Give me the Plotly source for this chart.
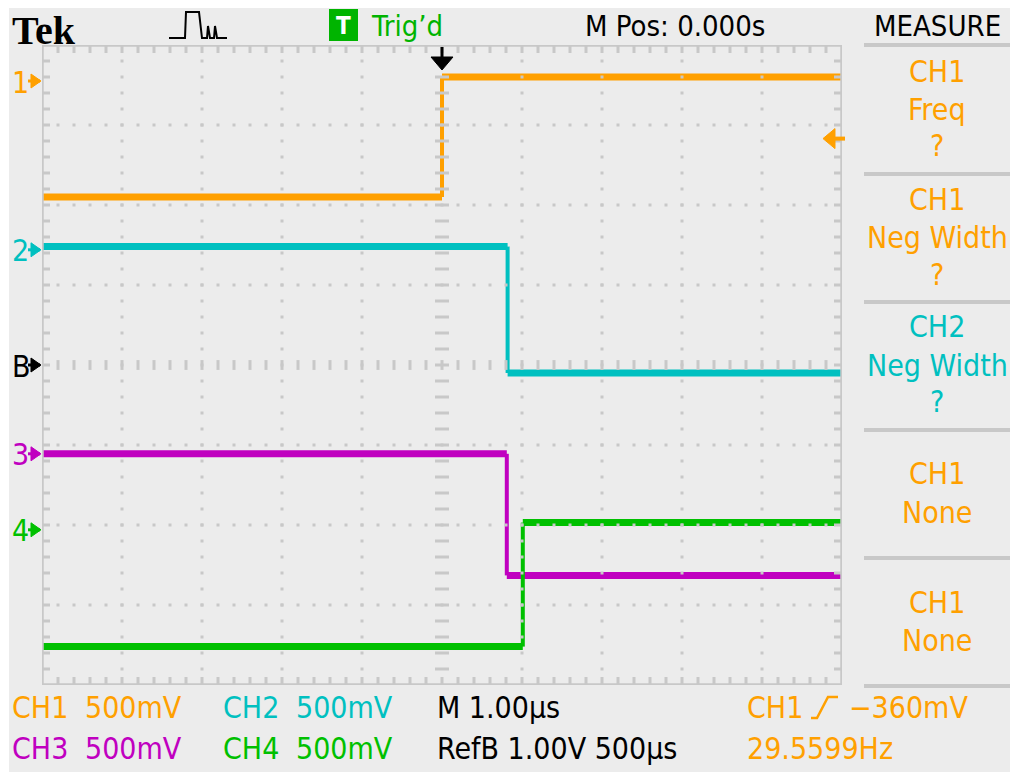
import plotly.graph_objects as go
import numpy as np

channels = ["CH1", "CH2", "CH3", "CH4"]
channel_colors = ["#ffa000", "#00c0c0", "#c000c0", "#00c000"]
marker_labels = ["1", "2", "3", "4"]
position_div = [3.55, 1.44, -1.11, -2.06]        # ground marker position (divisions)
volts_per_div = [0.5, 0.5, 0.5, 0.5]
edge_time_us = [0.0, 0.82, 0.81, 1.01]           # time of the single edge
level_before_v = [-0.725, 0.02, 0.0, -0.73]      # level before the edge (V)
level_after_v = [0.025, -0.77, -0.76, 0.045]     # level after the edge (V)

ref_label = "B"
ref_position_div = 0.0

time_per_div_us = 1.0
trigger_time_us = 0.0
trigger_level_v = -0.36
trigger_channel = 0
frequency_hz = 29.5599

measure_titles = ["CH1", "CH1", "CH2", "CH1", "CH1"]
measure_names = ["Freq", "Neg Width", "Neg Width", "None", "None"]
measure_values = ["?", "?", "?", "", ""]
measure_colors = ["#ffa000", "#ffa000", "#00c0c0", "#ffa000", "#ffa000"]

# ---------------- geometry (page pixels of the reference) ----------------
PAGE_W, PAGE_H = 1018, 772
OFF = 8                       # default page body margin
W, H = PAGE_W - OFF, PAGE_H - OFF
X0, X1, Y0, Y1 = 42, 842, 45, 685
BG = "#ececec"
GRID = "#c8c8c8"
FONT = "DejaVu Sans Condensed, Liberation Sans Narrow, Liberation Sans, sans-serif"
FS = 30


def px(x):
    return (x - OFF) / W


def py(y):
    return 1 - (y - OFF) / H


def t2px(t):
    return X0 + (t + 5) / 10 * (X1 - X0)


def d2py(d):
    return Y0 + (4 - d) / 8 * (Y1 - Y0)


fig = go.Figure()

# ---------------- signal traces ----------------
for i, name in enumerate(channels):
    yb = position_div[i] + level_before_v[i] / volts_per_div[i]
    ya = position_div[i] + level_after_v[i] / volts_per_div[i]
    te = edge_time_us[i]
    fig.add_trace(go.Scatter(x=[-5.2, te, None, te, 5.2], y=[yb, yb, None, ya, ya],
                             mode="lines", line=dict(color=channel_colors[i], width=7),
                             hoverinfo="skip", showlegend=False))
    fig.add_trace(go.Scatter(x=[te, te], y=[yb, ya], mode="lines",
                             line=dict(color=channel_colors[i], width=4),
                             hoverinfo="skip", showlegend=False))

# ---------------- graticule (drawn above the traces) ----------------
minor = np.round(np.arange(-5, 5.001, 0.2), 3)
minor_y = np.round(np.arange(-4, 4.001, 0.2), 3)
gx, gy = [], []
for xv in range(-4, 5):
    if xv == 0:
        continue
    for yv in minor_y[1:-1]:
        gx.append(xv); gy.append(yv)
for yv in range(-3, 4):
    if yv == 0:
        continue
    for xv in minor[1:-1]:
        gx.append(xv); gy.append(yv)
fig.add_trace(go.Scatter(x=gx, y=gy, mode="markers",
                         marker=dict(symbol="square", size=3, color=GRID, line=dict(width=0)),
                         hoverinfo="skip", showlegend=False))
# center cross ticks
fig.add_trace(go.Scatter(x=[0] * (len(minor_y) - 2), y=minor_y[1:-1], mode="markers",
                         marker=dict(symbol="line-ew", size=10, line=dict(color=GRID, width=3)),
                         hoverinfo="skip", showlegend=False))
fig.add_trace(go.Scatter(x=minor[1:-1], y=[0] * (len(minor) - 2), mode="markers",
                         marker=dict(symbol="line-ns", size=7, line=dict(color=GRID, width=3)),
                         hoverinfo="skip", showlegend=False))
# border ticks
tx, ty = [], []
tl_x = 8 / 80
tl_y = 8 / 80
for yv in minor_y[1:-1]:
    tx += [-5, -5 + tl_x, None, 5, 5 - tl_x, None]
    ty += [yv, yv, None, yv, yv, None]
for xv in minor[1:-1]:
    tx += [xv, xv, None, xv, xv, None]
    ty += [4, 4 - tl_y, None, -4, -4 + tl_y, None]
fig.add_trace(go.Scatter(x=tx, y=ty, mode="lines", line=dict(color=GRID, width=3),
                         hoverinfo="skip", showlegend=False))

# ---------------- shapes ----------------
shapes = []
shapes.append(dict(type="rect", xref="paper", yref="paper", x0=px(9), x1=1, y0=0, y1=1,
                   fillcolor=BG, line=dict(width=0), layer="below"))
shapes.append(dict(type="rect", xref="x", yref="y", x0=-5, x1=5, y0=-4, y1=4,
                   line=dict(color=GRID, width=3.5), layer="above"))
# measure panel separators
for yy in [45, 174, 302, 430, 558, 686]:
    shapes.append(dict(type="line", xref="paper", yref="paper", x0=px(864), x1=px(1012),
                       y0=py(yy), y1=py(yy), line=dict(color=GRID, width=4)))


def path(points, close=False):
    s = "M " + " L ".join(f"{px(a):.5f},{py(b):.5f}" for a, b in points)
    return s + (" Z" if close else "")


def marker_arrow(ymark, color):
    shapes.append(dict(type="path", xref="paper", yref="paper",
                       path=path([(31, ymark - 7), (41, ymark), (31, ymark + 7)], True),
                       fillcolor=color, line=dict(color=color, width=1)))
    shapes.append(dict(type="line", xref="paper", yref="paper", x0=px(28), x1=px(40),
                       y0=py(ymark), y1=py(ymark), line=dict(color=color, width=3)))


annotations = []


def ann(text, x, y, color, size=FS, anchor="left", family=FONT):
    annotations.append(dict(text=text, x=px(x), y=py(y), xref="paper", yref="paper",
                            xanchor=anchor, yanchor="middle", showarrow=False,
                            font=dict(family=family, size=size, color=color), borderpad=0))


# channel ground markers
for i in range(4):
    ym = d2py(position_div[i])
    marker_arrow(ym, channel_colors[i])
    ann(marker_labels[i], 11, ym + 1, channel_colors[i])
ym = d2py(ref_position_div)
marker_arrow(ym, "#000000")
ann(ref_label, 11, ym + 1, "#000000")

# trigger position arrow (top)
xt = t2px(trigger_time_us)
shapes.append(dict(type="rect", xref="paper", yref="paper", x0=px(xt - 1.5), x1=px(xt + 1.5),
                   y0=py(58), y1=py(47), fillcolor="#000000", line=dict(width=0)))
shapes.append(dict(type="path", xref="paper", yref="paper",
                   path=path([(xt - 11, 57), (xt + 11, 57), (xt, 70)], True),
                   fillcolor="#000000", line=dict(color="#000000", width=1)))

# trigger level arrow (right)
yt = d2py(position_div[trigger_channel] + trigger_level_v / volts_per_div[trigger_channel])
tc = channel_colors[trigger_channel]
shapes.append(dict(type="path", xref="paper", yref="paper",
                   path=path([(823, yt), (835, yt - 10), (835, yt + 10)], True),
                   fillcolor=tc, line=dict(color=tc, width=1)))
shapes.append(dict(type="line", xref="paper", yref="paper", x0=px(834), x1=px(845),
                   y0=py(yt), y1=py(yt), line=dict(color=tc, width=4)))

# acquisition icon
shapes.append(dict(type="path", xref="paper", yref="paper",
                   path=path([(169, 38), (185, 38), (186, 12), (199, 12), (202, 38), (207, 38),
                              (208, 26), (210, 38), (214, 38), (215, 26), (217, 38), (227, 38)]),
                   line=dict(color="#000000", width=2)))

# Trig'd box
shapes.append(dict(type="rect", xref="paper", yref="paper", x0=px(329), x1=px(358),
                   y0=py(41), y1=py(9), fillcolor="#00b400", line=dict(width=0)))

# rising edge glyph in trigger readout
shapes.append(dict(type="path", xref="paper", yref="paper",
                   path=path([(811, 718), (817, 718), (828, 697), (838, 697)]),
                   line=dict(color=tc, width=2.5)))

# ---------------- texts ----------------
ann("<b>Tek</b>", 11, 31, "#000000", size=40, family="Liberation Serif, DejaVu Serif, serif")
ann("<b>T</b>", 343.5, 26, "#ffffff", size=24, anchor="center")
ann("Trig’d", 370, 26, "#00b400", size=29)
ann(f"M Pos: {trigger_time_us:.3f}s", 584, 26, "#000000", size=29)
ann("MEASURE", 937, 26, "#000000", size=29, anchor="center")

for k in range(5):
    ytop = 45 + 128 * k
    c = measure_colors[k]
    if measure_values[k]:
        ann(measure_titles[k], 937, ytop + 26, c, anchor="center")
        ann(measure_names[k], 937, ytop + 64, c, anchor="center")
        ann(measure_values[k], 937, ytop + 101, c, anchor="center")
    else:
        ann(measure_titles[k], 937, ytop + 45, c, anchor="center")
        ann(measure_names[k], 937, ytop + 83, c, anchor="center")

row_y = [707, 748]
col_x = [(11, 84), (222, 295)]
for i in range(4):
    r = 0 if i in (0, 1) else 1
    cidx = 0 if i in (0, 2) else 1
    ann(channels[i], col_x[cidx][0], row_y[r], channel_colors[i])
    ann(f"{volts_per_div[i] * 1000:.0f}mV", col_x[cidx][1], row_y[r], channel_colors[i])
ann(f"M {time_per_div_us:.2f}µs", 436, row_y[0], "#000000")
ann("RefB 1.00V 500µs", 436, row_y[1], "#000000")
ann(channels[trigger_channel], 746, row_y[0], tc)
ann(f"−{abs(trigger_level_v) * 1000:.0f}mV", 848, row_y[0], tc)
ann(f"{frequency_hz:.4f}Hz", 746, row_y[1], tc)

fig.update_layout(
    width=W, height=H, autosize=False,
    margin=dict(l=0, r=0, t=0, b=0),
    paper_bgcolor="#ffffff", plot_bgcolor="#ffffff",
    xaxis=dict(domain=[px(X0), px(X1)], range=[-5, 5], visible=False, fixedrange=True),
    yaxis=dict(domain=[py(Y1), py(Y0)], range=[-4, 4], visible=False, fixedrange=True),
    shapes=shapes, annotations=annotations, showlegend=False,
)

fig.write_html("out.html")
